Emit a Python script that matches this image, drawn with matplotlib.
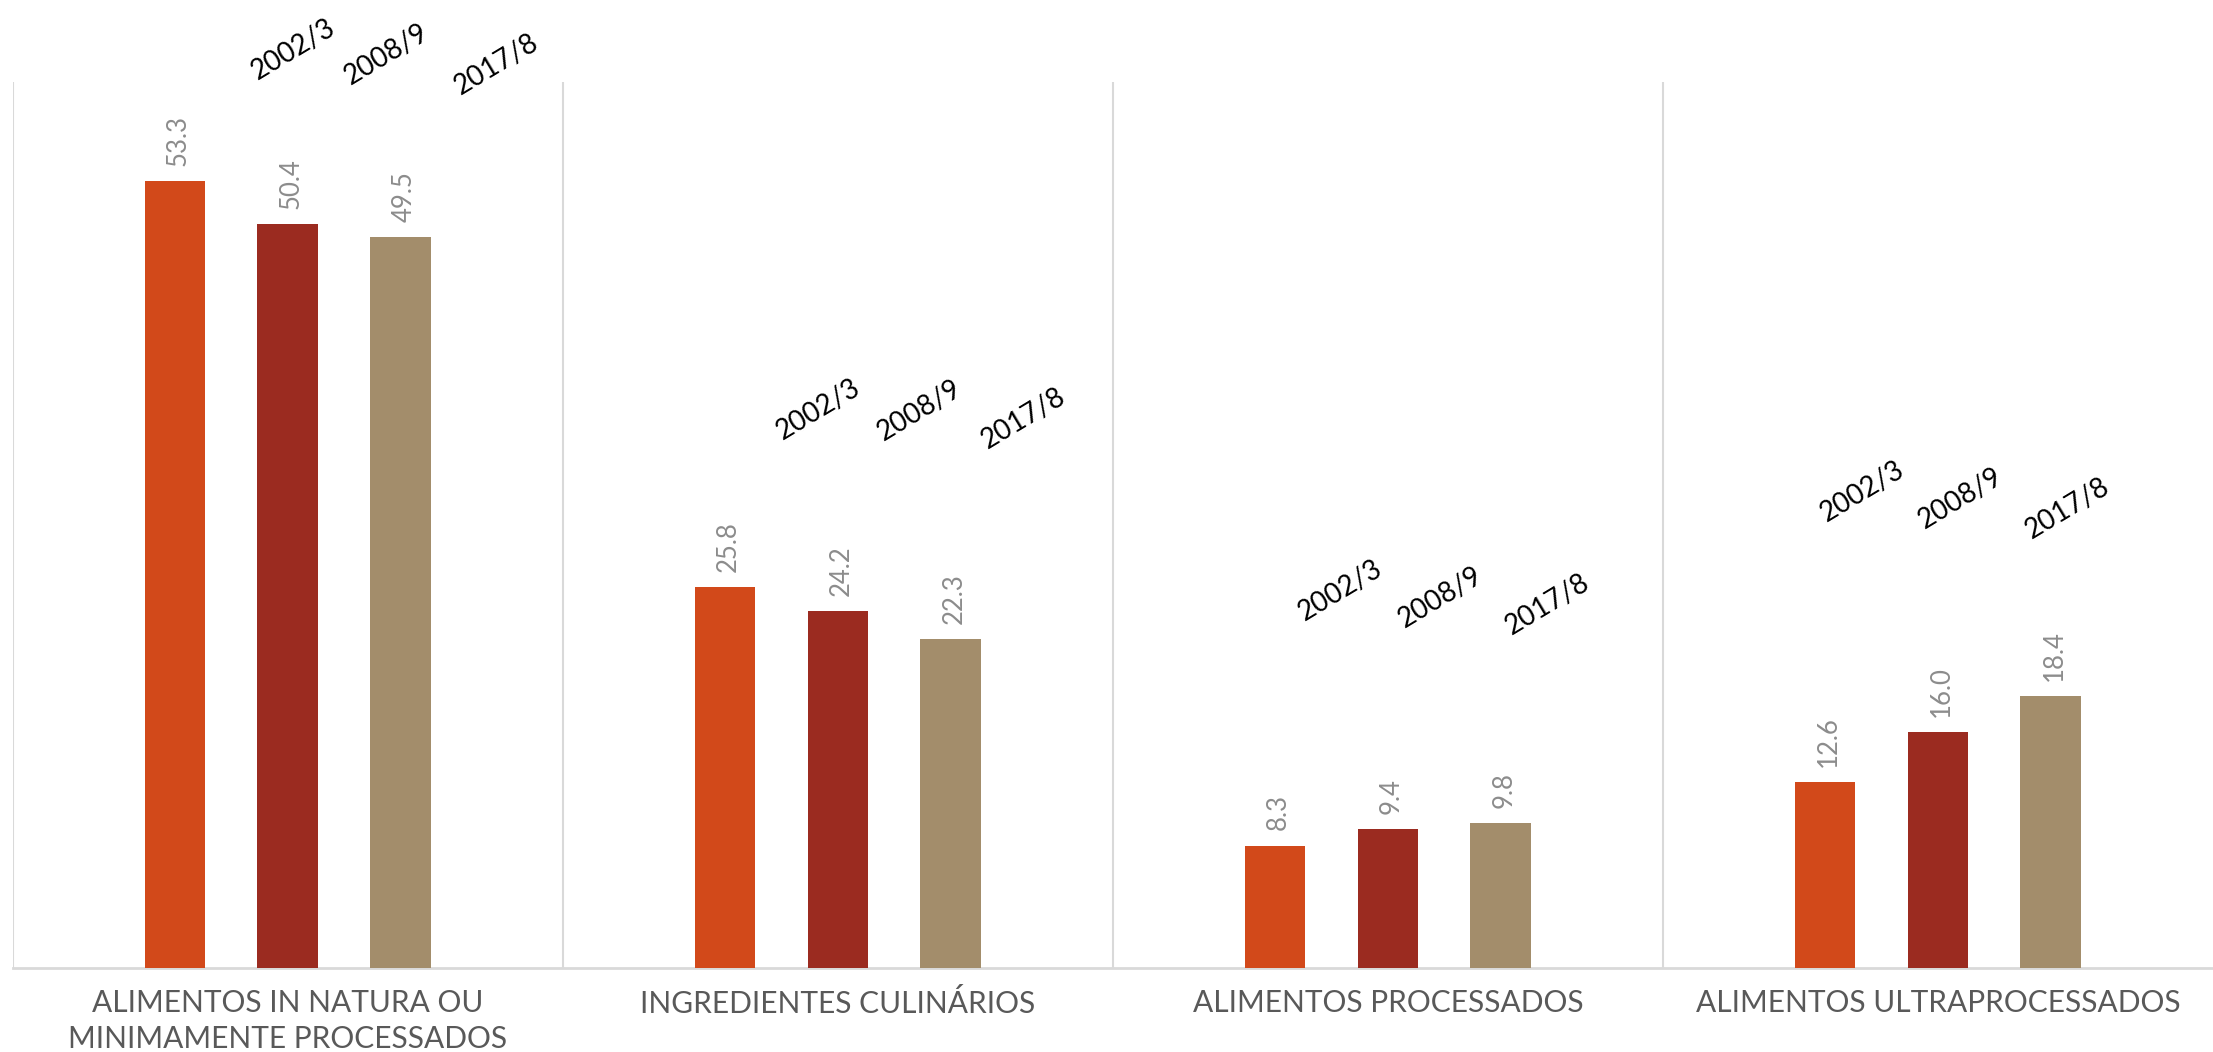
import numpy as np
import matplotlib.pyplot as plt

categories = ["ALIMENTOS IN NATURA OU\nMINIMAMENTE PROCESSADOS",
              "INGREDIENTES CULINÁRIOS",
              "ALIMENTOS PROCESSADOS",
              "ALIMENTOS ULTRAPROCESSADOS"]
periods = ["2002/3", "2008/9", "2017/8"]
v_2002 = [53.3, 25.8, 8.3, 12.6]
v_2008 = [50.4, 24.2, 9.4, 16.0]
v_2017 = [49.5, 22.3, 9.8, 18.4]
colors = ["#D2491A", "#9B2B20", "#A38D6B"]

# where the period names float above each group (data units)
label_dx = [[0.01, 0.18, 0.38], [-0.036, 0.149, 0.338],
            [-0.087, 0.095, 0.29], [-0.138, 0.041, 0.236]]
label_y = [[62.2, 61.9, 61.2], [37.8, 37.8, 37.2],
           [25.6, 25.1, 24.6], [32.3, 31.8, 31.1]]

fig = plt.figure(figsize=(22.13, 10.52), dpi=100)
ax = fig.add_axes([0.0057, 0.0798, 0.9943, 0.842])

x = np.arange(len(categories))
width = 0.11
step = 0.205
for i, (vals, c) in enumerate(zip([v_2002, v_2008, v_2017], colors)):
    pos = x + (i - 1) * step
    bars = ax.bar(pos, vals, width=width, color=c, zorder=3)
    for b, v in zip(bars, vals):
        ax.annotate(f"{v:.1f}", (b.get_x() + b.get_width() / 2, v),
                    xytext=(2.5, 11), textcoords="offset points",
                    rotation=90, ha="center", va="bottom",
                    fontsize=18.5, color="#8C8C8C", family="Lato")

for k in range(len(categories)):
    for j, p in enumerate(periods):
        ax.text(k + label_dx[k][j], label_y[k][j], p, rotation=31,
                ha="center", va="center", fontsize=20, color="black",
                family="Lato", clip_on=False)

# group separators
for s in np.arange(-0.5, len(categories) - 0.5, 1.0):
    ax.axvline(s, ymin=0, ymax=1, color="#D9D9D9", lw=1.5, zorder=1)

ax.set_xlim(-0.5, len(categories) - 0.5)
ax.set_ylim(0, 60)
ax.set_yticks([])
ax.set_xticks(x)
ax.set_xticklabels(categories, fontsize=21.5, color="#595959",
                   family="Lato", linespacing=1.35)
ax.tick_params(axis="x", length=0, pad=15)
for side in ["top", "right", "left"]:
    ax.spines[side].set_visible(False)
ax.spines["bottom"].set_color("#D9D9D9")
ax.spines["bottom"].set_linewidth(2)

fig.savefig("out.png", dpi=100)
